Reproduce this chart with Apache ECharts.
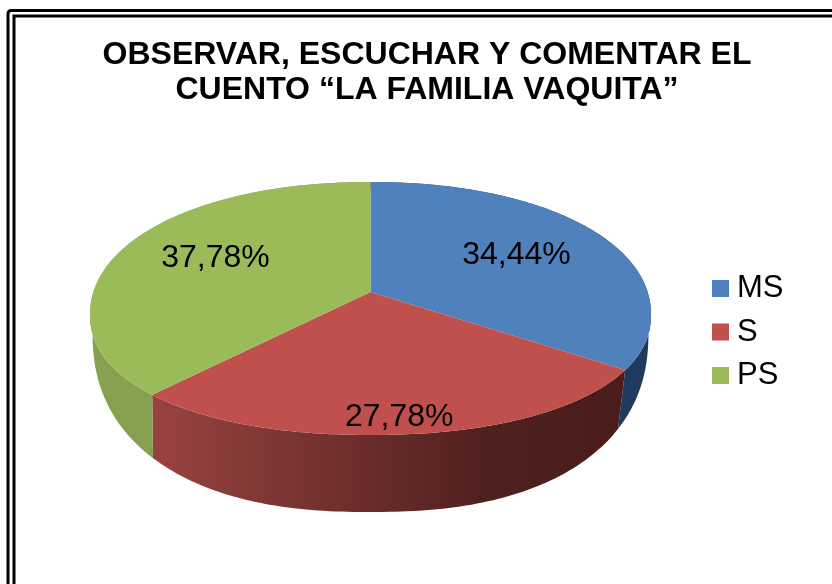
<!DOCTYPE html>
<html><head><meta charset="utf-8">
<style>html,body{margin:0;padding:0;background:#fff}#c{width:832px;height:584px}</style>
<script src="https://cdn.jsdelivr.net/npm/echarts@6/dist/echarts.min.js"></script>
</head><body><div id="c"></div>
<script>
const categories = ['MS', 'S', 'PS'];
const values = [34.44, 27.78, 37.78];
const valueLabels = ['34,44%', '27,78%', '37,78%'];
const topColors = ['#4f81bd', '#c0504d', '#9bbb59'];
const sideStops = [
  [[0, '#2a4d78'], [1, '#1e3a5c']],
  [[0, '#a04543'], [0.12, '#984240'], [0.71, '#4f201e'], [1, '#481c1b']],
  [[0, '#86a251'], [1, '#7d9a49']]
];
const titleText = 'OBSERVAR, ESCUCHAR Y COMENTAR EL\nCUENTO “LA FAMILIA VAQUITA”';

const view = {cx: 370.5, hubY: 292, persp: 0.127, tilt: 0.455};
const topEdge = {hubX: 370.5, hubY: 292, cy: 315, rx: 280.5, ryUp: 133, ryDown: 120, nUp: 2.1, nDown: 2.15};
const botEdge = {hubX: 374, hubY: 354, cy: 330, rx: 278, ryUp: 140, ryDown: 182, nUp: 2.1, nDown: 2.35};
const labelReach = [[0.63, 0.66], [0.86, 0.87], [0.63, 0.74]];
const total = values.reduce((a, b) => a + b, 0);

// direction of a slice boundary on the tilted disc, seen from the hub
function direction(turn) {
  const a = turn * 2 * Math.PI, u = Math.sin(a), v = Math.cos(a);
  const d = 1 + view.persp * v;
  return [u / d, -view.tilt * v / d];
}
function onEdge(turn, e) {
  const [dx, dy] = direction(turn);
  const inside = s => {
    const x = Math.abs(e.hubX + s * dx - view.cx) / e.rx;
    const yy = e.hubY + s * dy - e.cy;
    const up = yy < 0;
    const y = Math.abs(yy) / (up ? e.ryUp : e.ryDown);
    const n = up ? e.nUp : e.nDown;
    return Math.pow(x, n) + Math.pow(y, n) < 1;
  };
  let lo = 0, hi = 1000;
  for (let i = 0; i < 40; i++) { const m = (lo + hi) / 2; if (inside(m)) lo = m; else hi = m; }
  return [e.hubX + lo * dx, e.hubY + lo * dy];
}
function arc(t0, t1, e) {
  const n = Math.max(2, Math.ceil((t1 - t0) * 360)), pts = [];
  for (let i = 0; i <= n; i++) pts.push(onEdge(t0 + (t1 - t0) * i / n, e));
  return pts;
}
function renderSlice(idx) {
  return function (params, api) {
    const val = api.value(0);
    let before = 0;
    for (let i = 0; i < idx; i++) before += values[i];
    const t0 = before / total, t1 = (before + val) / total;
    const topArc = arc(t0, t1, topEdge);
    const botArc = arc(t0, t1, botEdge);
    const [dx, dy] = direction((t0 + t1) / 2), [fx, fy] = labelReach[idx];
    return {type: 'group', children: [
      {type: 'polygon', z2: 1, shape: {points: topArc.concat(botArc.slice().reverse())},
       style: {fill: {type: 'linear', x: 90, y: 0, x2: 650, y2: 0, global: true,
         colorStops: sideStops[idx].map(s => ({offset: s[0], color: s[1]}))}}},
      {type: 'polygon', z2: 2, shape: {points: [[view.cx, view.hubY]].concat(topArc)},
       style: {fill: topColors[idx]}},
      {type: 'text', z2: 3, x: view.cx + 278 * dx * fx, y: view.hubY + 278 * dy * fy,
       style: {text: valueLabels[idx], fill: '#000', font: '32px "Liberation Sans"',
         textAlign: 'center', textVerticalAlign: 'middle'}}
    ]};
  };
}
const chart = echarts.init(document.getElementById('c'), null, {renderer: 'canvas'});
chart.setOption({
  animation: false,
  backgroundColor: '#fff',
  title: {text: titleText, left: 422, top: 33, textAlign: 'center',
    textStyle: {fontFamily: 'Liberation Sans', fontSize: 32, fontWeight: 'bold', color: '#000', lineHeight: 35}},
  legend: {data: categories, left: 707, top: 265, orient: 'vertical', icon: 'rect', itemWidth: 17, itemHeight: 17,
    itemGap: 6.5, selectedMode: false, textStyle: {fontFamily: 'Liberation Sans', fontSize: 31, color: '#000', lineHeight: 30, padding: [7, 0, 0, 3]}},
  graphic: [
    {type: 'rect', silent: true, z: -1, shape: {x: 8, y: 10.5, width: 900, height: 700, r: 3}, style: {fill: 'none', stroke: '#000', lineWidth: 3}},
    {type: 'rect', silent: true, z: -1, shape: {x: 14, y: 16, width: 900, height: 700}, style: {fill: 'none', stroke: '#000', lineWidth: 3}}
  ],
  series: categories.map((name, i) => ({
    type: 'custom', name, coordinateSystem: 'none',
    itemStyle: {color: topColors[i]},
    renderItem: renderSlice(i),
    data: [[values[i]]]
  }))
});
</script></body></html>
